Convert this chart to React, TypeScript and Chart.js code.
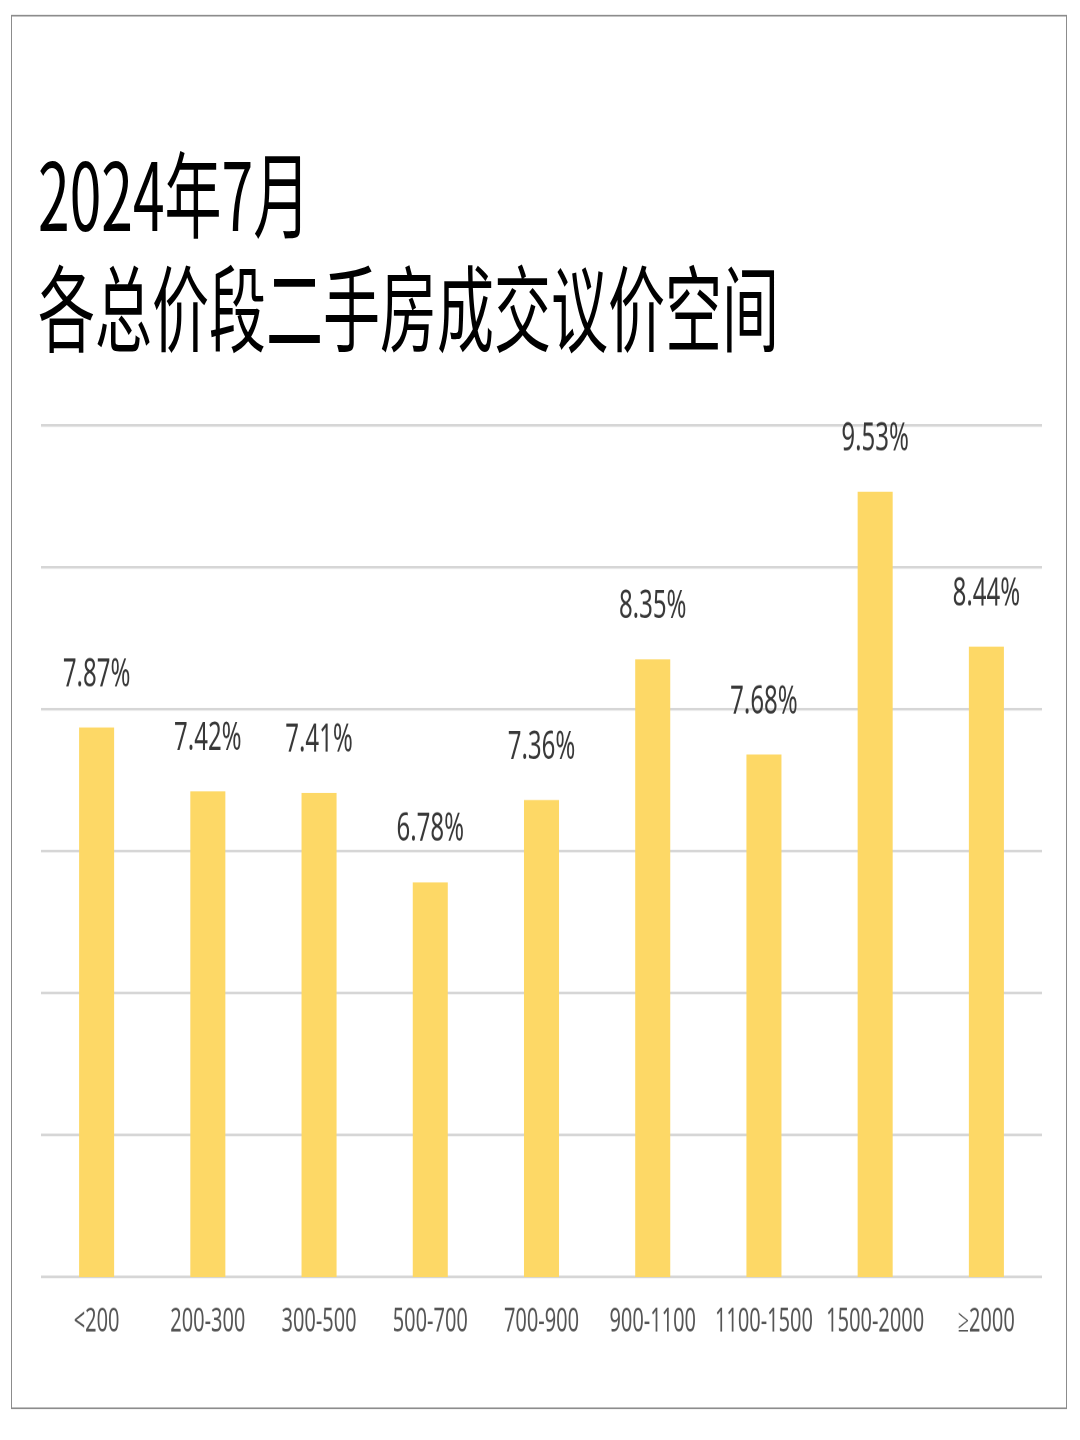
import React, { useEffect, useRef } from "react";
import { Chart, registerables } from "chart.js";

Chart.register(...registerables);

const titleLine1 = "2024年7月";
const titleLine2 = "各总价段二手房成交议价空间";
const categories = ["<200", "200-300", "300-500", "500-700", "700-900", "900-1100", "1100-1500", "1500-2000", "≥2000"];
const values = [7.87, 7.42, 7.41, 6.78, 7.36, 8.35, 7.68, 9.53, 8.44];
const yMin = 4;
const yMax = 10;
const yStep = 1;

const STRETCH = 1.65;

export default function App() {
  const canvasRef = useRef<HTMLCanvasElement | null>(null);

  useEffect(() => {
    document.body.style.margin = "0";
    const canvas = canvasRef.current;
    if (!canvas) return;
    const labelPlugin = {
      id: "valueAndCategoryLabels",
      afterDatasetsDraw(chart: any) {
        const ctx = chart.ctx;
        const meta = chart.getDatasetMeta(0);
        ctx.save();
        ctx.textAlign = "center";
        ctx.textBaseline = "alphabetic";
        ctx.font = '24px "Noto Sans"';
        ctx.fillStyle = "#383838";
        meta.data.forEach((bar: any, i: number) => {
          ctx.fillText(values[i].toFixed(2) + "%", bar.x, bar.y - 25);
        });
        const xs = chart.scales.x;
        ctx.font = '20px "Noto Sans"';
        ctx.fillStyle = "#555555";
        categories.forEach((c, i) => {
          ctx.fillText(c, xs.getPixelForValue(i), chart.chartArea.bottom + 33);
        });
        ctx.restore();
      },
    };
    const chart = new Chart(canvas, {
      type: "bar",
      data: {
        labels: categories,
        datasets: [
          {
            data: values,
            backgroundColor: "#FDD866",
            borderWidth: 0,
            barPercentage: 0.315,
            categoryPercentage: 1,
          },
        ],
      },
      options: {
        animation: false,
        responsive: true,
        maintainAspectRatio: false,
        devicePixelRatio: 2,
        layout: { padding: { top: 27.6, bottom: 76, left: 41, right: 38 } },
        plugins: { legend: { display: false }, tooltip: { enabled: false }, title: { display: false } },
        scales: {
          x: { display: false },
          y: {
            min: yMin,
            max: yMax,
            ticks: { stepSize: yStep, display: false },
            grid: { color: "#d6d6d6", lineWidth: 1.6, drawTicks: false },
            border: { display: false },
          },
        },
      },
      plugins: [labelPlugin],
    });
    return () => chart.destroy();
  }, []);

  const titleFont = '"Liberation Sans Narrow", "Noto Sans CJK SC", sans-serif';

  return (
    <div
      style={{
        position: "absolute",
        left: 0,
        top: 0,
        width: 1080,
        height: 1440 / STRETCH,
        background: "#fff",
        transform: `scaleY(${STRETCH})`,
        transformOrigin: "top left",
        overflow: "hidden",
      }}
    >
      <div
        style={{
          position: "absolute",
          left: 11,
          top: 8.5,
          width: 1056,
          height: 845,
          border: "1.5px solid #8c8c8c",
          boxSizing: "border-box",
        }}
      />
      <div
        style={{
          position: "absolute",
          left: 38,
          top: 87,
          fontFamily: titleFont,
          fontSize: 57,
          lineHeight: "57px",
          fontWeight: 400,
          color: "#000",
          whiteSpace: "nowrap",
        }}
      >
        {titleLine1}
      </div>
      <div
        style={{
          position: "absolute",
          left: 38,
          top: 156,
          fontFamily: titleFont,
          fontSize: 57,
          lineHeight: "57px",
          fontWeight: 400,
          color: "#000",
          whiteSpace: "nowrap",
        }}
      >
        {titleLine2}
      </div>
      <div style={{ position: "absolute", left: 0, top: 230, width: 1080, height: 620 }}>
        <canvas ref={canvasRef} />
      </div>
    </div>
  );
}
